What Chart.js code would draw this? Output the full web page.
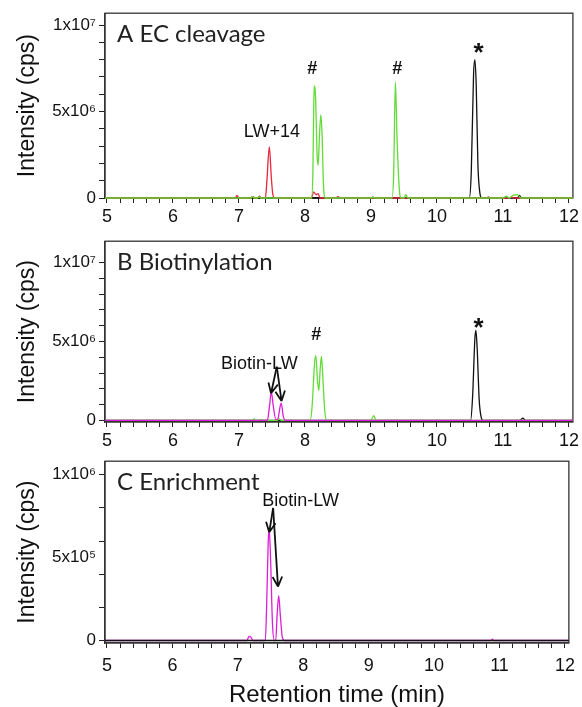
<!DOCTYPE html>
<html>
<head>
<meta charset="utf-8">
<script src="https://cdn.jsdelivr.net/npm/chart.js@4.4.0/dist/chart.umd.min.js"></script>
<style>
html, body { margin: 0; padding: 0; background: #fff; overflow: hidden; }
#wrap { position: relative; width: 582px; height: 707px; }
canvas { position: absolute; left: 0; }
</style>
</head>
<body>
<div id="wrap">
  <canvas id="chartA" width="582" height="228" style="top:0px"></canvas>
  <canvas id="chartB" width="582" height="220" style="top:228px"></canvas>
  <canvas id="chartC" width="582" height="259" style="top:448px"></canvas>
</div>
<script>
// x axis (retention time, min)
const xTickLabels = ['5', '6', '7', '8', '9', '10', '11', '12'];

// y axis ticks per panel
const yTicksA = [0, 1e6, 2e6, 3e6, 4e6, 5e6, 6e6, 7e6, 8e6, 9e6, 1e7];
const yLabelValuesA = [0, 5e6, 1e7];
const yLabelTextsA = ['0', '5x10⁶', '1x10⁷'];
const yTicksB = [0, 1e6, 2e6, 3e6, 4e6, 5e6, 6e6, 7e6, 8e6, 9e6, 1e7];
const yLabelValuesB = [0, 5e6, 1e7];
const yLabelTextsB = ['0', '5x10⁶', '1x10⁷'];
const yTicksC = [0, 2e5, 4e5, 5e5, 6e5, 8e5, 1e6];
const yLabelValuesC = [0, 5e5, 1e6];
const yLabelTextsC = ['0', '5x10⁵', '1x10⁶'];

// A: EC cleavage traces, [time, cps]
const aGreen = [[4.97,0],[7.18,0],[7.2,0.08e6],[7.23,0],[7.28,0],[7.3,0.08e6],[7.33,0],[8.1,0],[8.12,1.5e6],[8.135,5.8e6],[8.145,6.5e6],[8.16,5.9e6],[8.185,2.4e6],[8.2,1.9e6],[8.22,3.6e6],[8.24,4.8e6],[8.26,3.6e6],[8.28,0.8e6],[8.31,0],[9.01,0],[9.03,0.08e6],[9.05,0],[9.32,0],[9.345,1.5e6],[9.37,6.7e6],[9.395,3.5e6],[9.43,0.5e6],[9.46,0],[9.5,0],[9.53,0.2e6],[9.56,0],[11.0,0],[11.05,0.1e6],[11.1,0],[11.15,0.15e6],[11.22,0.2e6],[11.27,0],[12.06,0]];
const aRed = [[4.97,0],[6.94,0],[6.97,0.15e6],[7.0,0],[7.18,0],[7.21,0.08e6],[7.24,0],[7.28,0],[7.31,0.1e6],[7.34,0],[7.4,0],[7.42,0.8e6],[7.46,2.95e6],[7.49,1.2e6],[7.51,0.3e6],[7.54,0],[8.1,0],[8.13,0.35e6],[8.17,0.2e6],[8.2,0.25e6],[8.23,0],[8.47,0],[8.5,0.08e6],[8.53,0],[10.75,0],[10.78,0.06e6],[10.8,0],[11.1,0],[11.13,0.06e6],[11.16,0],[12.06,0]];
const aBlack = [[4.97,0],[10.49,0],[10.52,1.5e6],[10.555,7.2e6],[10.575,8.0e6],[10.595,6.5e6],[10.62,2.0e6],[10.65,0.3e6],[10.68,0],[11.22,0],[11.25,0.15e6],[11.28,0],[12.06,0]];

// B: Biotinylation traces
const bMagenta = [[4.97,0],[7.43,0],[7.46,0.8e6],[7.49,1.8e6],[7.52,0.9e6],[7.56,0.05e6],[7.59,0.1e6],[7.62,0.8e6],[7.64,1.1e6],[7.67,0.3e6],[7.7,0],[12.06,0]];
const bGreen = [[4.97,0],[7.2,0],[7.23,0.1e6],[7.26,0],[7.3,0],[7.33,0.06e6],[7.36,0],[7.58,0],[7.61,0.1e6],[7.64,0],[8.08,0],[8.11,1.0e6],[8.145,3.6e6],[8.165,4.1e6],[8.19,2.5e6],[8.21,1.9e6],[8.23,3.2e6],[8.25,4.05e6],[8.27,2.8e6],[8.3,0.6e6],[8.33,0],[9.0,0],[9.04,0.3e6],[9.08,0],[12.06,0]];
const bBlack = [[4.97,0],[10.51,0],[10.54,1.5e6],[10.575,5.2e6],[10.59,5.7e6],[10.61,4.5e6],[10.64,1.3e6],[10.67,0.2e6],[10.7,0],[11.26,0],[11.3,0.15e6],[11.34,0],[12.06,0]];

// C: Enrichment traces
const cMagenta = [[4.97,0],[7.14,0],[7.17,0.025e6],[7.2,0.02e6],[7.23,0],[7.42,0],[7.44,0.2e6],[7.465,0.6e6],[7.48,0.67e6],[7.5,0.5e6],[7.53,0.1e6],[7.56,0],[7.58,0],[7.6,0.15e6],[7.625,0.27e6],[7.65,0.15e6],[7.68,0.02e6],[7.71,0],[10.87,0],[10.89,0.008e6],[10.91,0],[12.06,0]];
const cBlack = [[4.97,0],[12.06,0]];

const FONT = "'Liberation Sans', Arial, sans-serif";
const COLORS = { green: '#62dc36', red: '#e8263c', black: '#111111', magenta: '#dc1fd6' };

const boxPlugin = {
  id: 'box',
  beforeDatasetsDraw(chart) {
    const { ctx, chartArea: a } = chart;
    ctx.save();
    ctx.strokeStyle = '#333';
    ctx.lineWidth = 1.3;
    ctx.strokeRect(a.left, a.top, a.right - a.left, a.bottom - a.top);
    ctx.restore();
  }
};

const notesPlugin = {
  id: 'notes',
  afterDatasetsDraw(chart, args, opts) {
    const { ctx, chartArea: a, scales: { x, y } } = chart;
    ctx.save();
    ctx.fillStyle = '#222';
    ctx.font = "24px Lato, 'Open Sans', sans-serif";
    ctx.textAlign = 'left';
    ctx.textBaseline = 'alphabetic';
    ctx.fillText(opts.panel, a.left + 12, a.top + 29);

    ctx.fillStyle = '#111';
    ctx.textAlign = 'center';
    (opts.texts || []).forEach(t => {
      ctx.font = t.font;
      ctx.fillText(t.text, x.getPixelForValue(t.x), y.getPixelForValue(t.y));
    });

    ctx.strokeStyle = '#111';
    ctx.lineWidth = 1.8;
    (opts.arrows || []).forEach(ar => {
      const x0 = x.getPixelForValue(ar.from[0]), y0 = y.getPixelForValue(ar.from[1]);
      const x1 = x.getPixelForValue(ar.to[0]), y1 = y.getPixelForValue(ar.to[1]);
      const ang = Math.atan2(y1 - y0, x1 - x0);
      ctx.beginPath();
      ctx.moveTo(x0, y0);
      ctx.lineTo(x1, y1);
      [-0.45, 0.45].forEach(d => {
        ctx.moveTo(x1, y1);
        ctx.lineTo(x1 - 11 * Math.cos(ang + d), y1 - 11 * Math.sin(ang + d));
      });
      ctx.stroke();
    });
    ctx.restore();
  }
};

function trace(data, color) {
  return {
    data: data,
    borderColor: color,
    borderWidth: 1.3,
    pointRadius: 0,
    fill: false,
    cubicInterpolationMode: 'monotone',
    clip: false
  };
}

function makePanel(id, p) {
  new Chart(document.getElementById(id).getContext('2d'), {
    type: 'line',
    data: { datasets: p.datasets },
    options: {
      responsive: false,
      devicePixelRatio: 1,
      animation: false,
      events: [],
      layout: { padding: { top: p.padTop, right: 5, bottom: 0, left: 0 } },
      plugins: {
        legend: { display: false },
        tooltip: { enabled: false },
        notes: { panel: p.panel, texts: p.texts, arrows: p.arrows }
      },
      scales: {
        x: {
          type: 'linear',
          min: 4.97,
          max: 12.06,
          afterBuildTicks: s => {
            const t = [];
            for (let i = 0; i <= 35; i++) t.push({ value: 5 + i * 0.2 });
            s.ticks = t;
          },
          afterFit: s => { s.height = p.xHeight; },
          grid: { drawOnChartArea: false, drawTicks: true, tickLength: 5, tickColor: '#222' },
          border: { display: true, color: '#333', width: 1.3 },
          ticks: {
            autoSkip: false,
            maxRotation: 0,
            padding: p.xPad,
            color: '#111',
            font: { family: FONT, size: 18 },
            callback: v => {
              const k = Math.round(v);
              return Math.abs(v - k) < 1e-6 ? xTickLabels[k - 5] : '';
            }
          },
          title: p.xTitle ? {
            display: true,
            text: 'Retention time (min)',
            color: '#111',
            font: { family: FONT, size: 24, lineHeight: 1 },
            padding: { top: 0, bottom: 0 }
          } : { display: false }
        },
        y: {
          type: 'linear',
          min: p.yMin,
          max: p.yMax,
          afterBuildTicks: s => { s.ticks = p.yTicks.map(v => ({ value: v })); },
          afterFit: s => { s.width = 105; },
          grid: {
            drawOnChartArea: false,
            drawTicks: true,
            tickLength: 6,
            tickColor: ctx => (p.yNoMark || []).includes(ctx.tick && ctx.tick.value) ? 'rgba(0,0,0,0)' : '#222'
          },
          border: { display: true, color: '#333', width: 1.3 },
          ticks: {
            autoSkip: false,
            padding: 3,
            color: '#111',
            font: { family: FONT, size: 17 },
            callback: v => {
              const i = p.yLabelValues.indexOf(v);
              return i >= 0 ? p.yLabelTexts[i] : '';
            }
          },
          title: {
            display: true,
            text: 'Intensity (cps)',
            color: '#111',
            font: { family: FONT, size: 23, lineHeight: 1 },
            padding: { top: 16, bottom: 0 }
          }
        }
      }
    },
    plugins: [boxPlugin, notesPlugin]
  });
}

makePanel('chartA', {
  panel: 'A EC cleavage',
  padTop: 13, xHeight: 30, xPad: 3,
  yMin: 0, yMax: 1.069e7,
  yTicks: yTicksA, yLabelValues: yLabelValuesA, yLabelTexts: yLabelTextsA,
  datasets: [trace(aGreen, COLORS.green), trace(aRed, COLORS.red), trace(aBlack, COLORS.black)],
  texts: [
    { text: 'LW+14', x: 7.5, y: 3.53e6, font: '18px ' + FONT },
    { text: '#', x: 8.11, y: 7.2e6, font: 'bold 18px ' + FONT },
    { text: '#', x: 9.4, y: 7.2e6, font: 'bold 18px ' + FONT },
    { text: '*', x: 10.63, y: 7.92e6, font: 'bold 26px ' + FONT }
  ]
});

makePanel('chartB', {
  panel: 'B Biotinylation',
  padTop: 7, xHeight: 26, xPad: 3,
  yMin: -0.1e6, yMax: 1.135e7,
  yTicks: yTicksB, yLabelValues: yLabelValuesB, yLabelTexts: yLabelTextsB,
  datasets: [trace(bMagenta, COLORS.magenta), trace(bGreen, COLORS.green), trace(bBlack, COLORS.black)],
  texts: [
    { text: 'Biotin-LW', x: 7.31, y: 3.25e6, font: '18px ' + FONT },
    { text: '#', x: 8.17, y: 5.09e6, font: 'bold 18px ' + FONT },
    { text: '*', x: 10.63, y: 5.34e6, font: 'bold 26px ' + FONT }
  ],
  arrows: [
    { from: [7.573, 3.4e6], to: [7.486, 1.72e6] },
    { from: [7.573, 3.4e6], to: [7.645, 1.23e6] }
  ]
});

makePanel('chartC', {
  panel: 'C Enrichment',
  padTop: 10, xHeight: 64, xPad: 7, xTitle: true,
  yMin: -0.015e6, yMax: 1.082e6,
  yTicks: yTicksC, yLabelValues: yLabelValuesC, yLabelTexts: yLabelTextsC, yNoMark: [5e5],
  datasets: [trace(cBlack, COLORS.black), trace(cMagenta, COLORS.magenta)],
  texts: [
    { text: 'Biotin-LW', x: 7.96, y: 0.81e6, font: '18px ' + FONT }
  ],
  arrows: [
    { from: [7.54, 0.8e6], to: [7.48, 0.653e6] },
    { from: [7.54, 0.8e6], to: [7.614, 0.325e6] }
  ]
});
</script>
</body>
</html>
